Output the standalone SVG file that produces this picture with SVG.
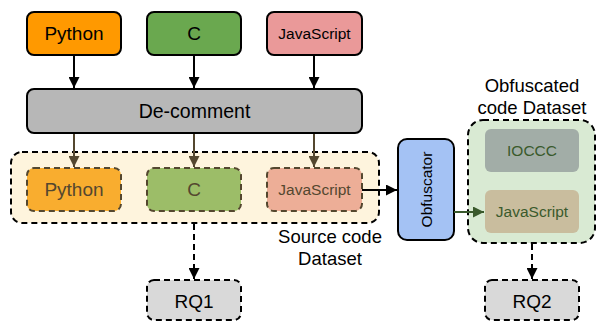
<svg xmlns="http://www.w3.org/2000/svg" width="596" height="323" viewBox="0 0 596 323">
<defs>
<marker id="ab" viewBox="0 0 10 10" refX="10" refY="5" markerWidth="5.5" markerHeight="5.5" orient="auto" markerUnits="strokeWidth"><path d="M0,0 L10,5 L0,10 z" fill="#000"/></marker>
<marker id="abr" viewBox="0 0 10 10" refX="10" refY="5" markerWidth="5.5" markerHeight="5.5" orient="auto" markerUnits="strokeWidth"><path d="M0,0 L10,5 L0,10 z" fill="#54472f"/></marker>
<marker id="ag" viewBox="0 0 10 10" refX="10" refY="5" markerWidth="5.5" markerHeight="5.5" orient="auto" markerUnits="strokeWidth"><path d="M0,0 L10,5 L0,10 z" fill="#3a5a2c"/></marker>
</defs>
<style>
text{font-family:"Liberation Sans",Arial,sans-serif;text-anchor:middle;dominant-baseline:central}
.solid{stroke:#000;stroke-width:2}
.dash{stroke:#000;stroke-width:2;stroke-dasharray:6,4}
.idash{stroke:#54472f;stroke-width:2;stroke-dasharray:6,4}
.ln{stroke:#000;stroke-width:2;fill:none}
</style>
<g id="python-top"><rect x="27" y="12" width="94" height="43" rx="7" fill="#ff9900" class="solid"/><text x="74" y="33.5" font-size="19">Python</text></g>
<g id="c-top"><rect x="147" y="12" width="94" height="43" rx="7" fill="#6aa84f" class="solid"/><text x="194" y="33.5" font-size="19">C</text></g>
<g id="js-top"><rect x="267" y="12" width="95" height="43" rx="7" fill="#ea9999" class="solid"/><text x="314.5" y="33.5" font-size="15.5">JavaScript</text></g>
<g id="decomment"><rect x="27" y="89" width="335" height="44" rx="7" fill="#b7b7b7" class="solid"/><text x="194.5" y="111" font-size="19.5">De-comment</text></g>
<g id="source-dataset">
<rect x="11" y="152" width="368" height="71" rx="11" fill="#fef4dd" class="dash"/>
<text x="330" y="236" font-size="18.5">Source code</text>
<text x="330" y="258" font-size="18.5">Dataset</text>
</g>
<g id="python-src"><rect x="27" y="168" width="94" height="43" rx="7" fill="#f9ad2f" class="idash"/><text x="74" y="189.5" font-size="19" fill="#54472f">Python</text></g>
<g id="c-src"><rect x="147" y="168" width="94" height="43" rx="7" fill="#9cbd68" class="idash"/><text x="194" y="189.5" font-size="19" fill="#54472f">C</text></g>
<g id="js-src"><rect x="267" y="168" width="95" height="43" rx="7" fill="#edae97" class="idash"/><text x="314.5" y="189.5" font-size="15.5" fill="#54472f">JavaScript</text></g>
<g id="obfuscator"><rect x="398" y="139" width="56" height="101" rx="9" fill="#a4c2f4" class="solid"/><text x="0" y="0" font-size="15.5" transform="translate(426,189.5) rotate(-90)">Obfuscator</text></g>
<g id="obf-dataset">
<rect x="468" y="120" width="127" height="123" rx="15" fill="#d9ead3" class="dash"/>
<text x="532" y="85" font-size="18.5">Obfuscated</text>
<text x="532" y="107" font-size="18.5">code Dataset</text>
</g>
<g id="ioccc"><rect x="485" y="129" width="94" height="43" rx="6" fill="#a2ada7"/><text x="532" y="150.5" font-size="15.5" fill="#3a5a2c">IOCCC</text></g>
<g id="js-obf"><rect x="485" y="190" width="94" height="43" rx="6" fill="#c9bd9e"/><text x="532" y="211.5" font-size="15.5" fill="#3a5a2c">JavaScript</text></g>
<g id="rq1"><rect x="147" y="280" width="94" height="40" rx="7" fill="#d9d9d9" class="dash"/><text x="194" y="301" font-size="19">RQ1</text></g>
<g id="rq2"><rect x="485" y="280" width="94" height="40" rx="7" fill="#d9d9d9" class="dash"/><text x="532" y="301" font-size="19">RQ2</text></g>
<g id="connectors">
<line x1="74" y1="55" x2="74" y2="88" class="ln" marker-end="url(#ab)"/>
<line x1="194" y1="55" x2="194" y2="88" class="ln" marker-end="url(#ab)"/>
<line x1="314" y1="55" x2="314" y2="88" class="ln" marker-end="url(#ab)"/>
<line x1="74" y1="134" x2="74" y2="167" stroke="#54472f" stroke-width="2" marker-end="url(#abr)"/>
<line x1="194" y1="134" x2="194" y2="167" stroke="#54472f" stroke-width="2" marker-end="url(#abr)"/>
<line x1="314" y1="134" x2="314" y2="167" stroke="#54472f" stroke-width="2" marker-end="url(#abr)"/>
<line x1="362" y1="190" x2="397" y2="190" class="ln" marker-end="url(#ab)"/>
<line x1="454" y1="212" x2="484" y2="212" stroke="#3a5a2c" stroke-width="2" marker-end="url(#ag)"/>
<line x1="194" y1="224" x2="194" y2="279" class="ln" stroke-dasharray="6,4" marker-end="url(#ab)"/>
<line x1="532" y1="244" x2="532" y2="279" class="ln" stroke-dasharray="6,4" marker-end="url(#ab)"/>
</g>
</svg>
